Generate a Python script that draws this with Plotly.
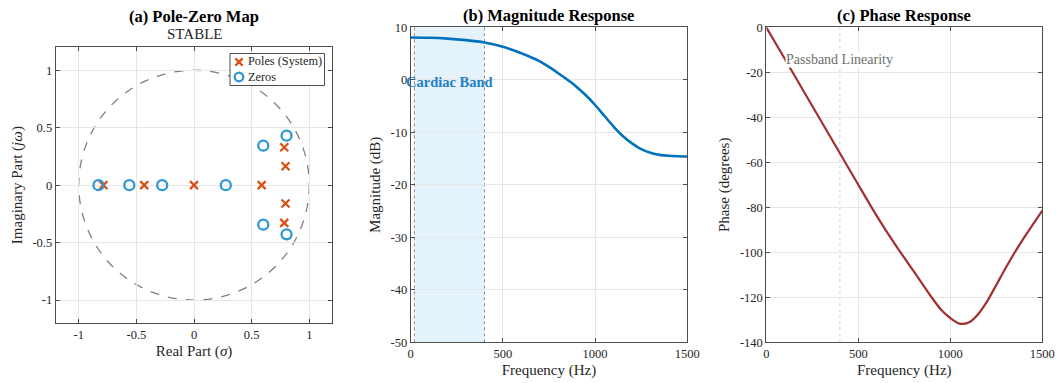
import plotly.graph_objects as go

# ---------------- data ----------------
pole_re = [-0.786, -0.432, 0.0, 0.587, 0.783, 0.794, 0.794, 0.783]
pole_im = [0.0, 0.0, 0.0, 0.0, 0.330, 0.165, -0.160, -0.328]
zero_re = [-0.829, -0.561, -0.276, 0.276, 0.601, 0.803, 0.601, 0.803]
zero_im = [0.0, 0.0, 0.0, 0.0, 0.344, 0.431, -0.344, -0.428]

mag_freq = [0, 100, 200, 300, 400, 500, 600, 700, 750, 800, 850, 900, 950, 1000, 1050,
            1100, 1150, 1200, 1250, 1300, 1350, 1400, 1450, 1500]
mag_db = [8.05, 8.0, 7.85, 7.55, 7.1, 6.3, 5.05, 3.5, 2.45, 1.25, 0.0, -1.35, -2.95,
          -4.8, -6.85, -8.9, -10.7, -12.1, -13.2, -13.9, -14.3, -14.47, -14.55, -14.6]

ph_freq = [0, 100, 200, 300, 400, 500, 600, 700, 800, 900, 950, 1000, 1050,
           1100, 1150, 1200, 1250, 1300, 1350, 1400, 1450, 1500]
ph_deg = [0, -14, -28, -42, -56, -70, -83.8, -96.5, -108.3, -120.2, -125.5, -129.2,
          -131.7, -131.2, -127.6, -121.8, -114.5, -107.1, -100.1, -93.6, -87.5, -81.5]

band_lo, band_hi = 20, 400

pz_ticks = [-1, -0.5, 0, 0.5, 1]
pz_ticktext = ["-1", "-0.5", "0", "0.5", "1"]
freq_ticks = [0, 500, 1000, 1500]
mag_ticks = [10, 0, -10, -20, -30, -40, -50]
ph_ticks = [0, -20, -40, -60, -80, -100, -120, -140]

legend_labels = ["Poles (System)", "Zeros"]

# ---------------- style ----------------
FONT = "Liberation Serif"
TXT = "#262626"
AX = "#4d4d4d"
GRID = "#e6e6e6"
C_POLE = "#D95319"
C_ZERO = "#2F98D3"
C_MAG = "#0072BD"
C_PH = "#A2302F"
W, H = 1061, 383

def px(x):
    return x / W

def py(y):
    return 1 - y / H

fig = go.Figure()

fig.add_trace(go.Scatter(x=pole_re, y=pole_im, mode="markers", name=legend_labels[0],
                         showlegend=False,
                         marker=dict(symbol="x-thin", size=8, color=C_POLE,
                                     line=dict(color=C_POLE, width=2.3)),
                         xaxis="x", yaxis="y"))
fig.add_trace(go.Scatter(x=zero_re, y=zero_im, mode="markers", name=legend_labels[1],
                         showlegend=False,
                         marker=dict(symbol="circle-open", size=10, color=C_ZERO,
                                     line=dict(color=C_ZERO, width=2.3)),
                         xaxis="x", yaxis="y"))
fig.add_trace(go.Scatter(x=mag_freq, y=mag_db, mode="lines", showlegend=False,
                         line=dict(color=C_MAG, width=2.6, shape="spline", smoothing=0.8),
                         xaxis="x2", yaxis="y2"))
fig.add_trace(go.Scatter(x=ph_freq, y=ph_deg, mode="lines", showlegend=False,
                         line=dict(color=C_PH, width=2.2, shape="spline", smoothing=0.8),
                         xaxis="x3", yaxis="y3"))

axcommon = dict(showline=True, linecolor=AX, linewidth=1, mirror="ticks", ticks="inside",
                ticklen=4, tickcolor=AX, gridcolor=GRID, gridwidth=1, zeroline=False,
                automargin=False,
                tickfont=dict(family=FONT, size=12.5, color=TXT),
                title_font=dict(family=FONT, size=15, color=TXT))

dom_a_x = [px(55.7), px(332.3)]
dom_a_y = [py(323), py(47.3)]
dom_b_x = [px(410.7), px(687.3)]
dom_c_x = [px(766.3), px(1042.3)]
dom_bc_y = [py(342.3), py(27.3)]

fig.update_layout(
    width=W, height=H,
    margin=dict(l=0, r=0, t=0, b=0),
    paper_bgcolor="white", plot_bgcolor="white",
    font=dict(family=FONT, color=TXT),
    showlegend=False,
    xaxis=dict(domain=dom_a_x, range=[-1.2, 1.2], tickvals=pz_ticks, ticktext=pz_ticktext,
               title=dict(text="Real Part (<i>σ</i>)", standoff=4), anchor="y", **axcommon),
    yaxis=dict(domain=dom_a_y, range=[-1.2, 1.2], tickvals=pz_ticks, ticktext=pz_ticktext,
               title=dict(text="Imaginary Part (<i>jω</i>)", standoff=6), anchor="x", **axcommon),
    xaxis2=dict(domain=dom_b_x, range=[0, 1500], tickvals=freq_ticks,
                title=dict(text="Frequency (Hz)", standoff=4), anchor="y2", **axcommon),
    yaxis2=dict(domain=dom_bc_y, range=[-50, 10], tickvals=mag_ticks,
                ticktext=[str(v) for v in mag_ticks],
                title=dict(text="Magnitude (dB)", standoff=6), anchor="x2", **axcommon),
    xaxis3=dict(domain=dom_c_x, range=[0, 1500], tickvals=freq_ticks,
                title=dict(text="Frequency (Hz)", standoff=4), anchor="y3", **axcommon),
    yaxis3=dict(domain=dom_bc_y, range=[-140, 0], tickvals=ph_ticks,
                ticktext=[str(v) for v in ph_ticks],
                title=dict(text="Phase (degrees)", standoff=6), anchor="x3", **axcommon),
)

# unit circle
fig.add_shape(type="circle", xref="x", yref="y", x0=-1, y0=-1, x1=1, y1=1,
              line=dict(color="#808080", width=1.3, dash="dash"), layer="below")

# legend box (drawn manually, compact like the reference)
fig.add_shape(type="rect", xref="paper", yref="paper", x0=px(230), x1=px(324.5),
              y0=py(85.5), y1=py(53.5), fillcolor="white",
              line=dict(color=AX, width=1), layer="above")
# pole symbol
cx, cy, r = 239, 62, 3.6
fig.add_shape(type="line", xref="paper", yref="paper", x0=px(cx - r), y0=py(cy - r),
              x1=px(cx + r), y1=py(cy + r), line=dict(color=C_POLE, width=2.3))
fig.add_shape(type="line", xref="paper", yref="paper", x0=px(cx - r), y0=py(cy + r),
              x1=px(cx + r), y1=py(cy - r), line=dict(color=C_POLE, width=2.3))
# zero symbol
cx2, cy2, r2 = 239, 77, 4.3
fig.add_shape(type="circle", xref="paper", yref="paper", x0=px(cx2 - r2), y0=py(cy2 + r2),
              x1=px(cx2 + r2), y1=py(cy2 - r2), line=dict(color=C_ZERO, width=2.3))
for lab, yy in zip(legend_labels, [61.5, 77]):
    fig.add_annotation(x=px(245.5), y=py(yy), xref="paper", yref="paper", text=lab,
                       showarrow=False, xanchor="left", yanchor="middle",
                       font=dict(family=FONT, size=12.3, color=TXT))

# cardiac band
fig.add_shape(type="rect", xref="x2", yref="y2", x0=band_lo, x1=band_hi, y0=-50, y1=10,
              fillcolor="#E3F2FB", line=dict(width=0), layer="below")
for xv in [band_lo, band_hi]:
    fig.add_shape(type="line", xref="x2", yref="y2", x0=xv, x1=xv, y0=-50, y1=10,
                  line=dict(color="#8c8c8c", width=1, dash="dot"), layer="below")
fig.add_annotation(x=(band_lo + band_hi) / 2, y=-0.4, xref="x2", yref="y2",
                   text="<b>Cardiac Band</b>", showarrow=False,
                   font=dict(family=FONT, size=14.5, color="#1F80C4"))

# phase reference
fig.add_shape(type="line", xref="x3", yref="y3", x0=band_hi, x1=band_hi, y0=-140, y1=0,
              line=dict(color="#d0d0d0", width=1, dash="dot"), layer="below")
fig.add_annotation(x=band_hi, y=-14.5, xref="x3", yref="y3", text="Passband Linearity",
                   showarrow=False, bgcolor="white", borderpad=0,
                   font=dict(family=FONT, size=14, color="#6e6e6e"))

# titles
def ptitle(xc, y, text, size=16.5, color="#000000"):
    fig.add_annotation(x=xc, y=y, xref="paper", yref="paper", text=text, showarrow=False,
                       xanchor="center", yanchor="middle",
                       font=dict(family=FONT, size=size, color=color))

ptitle(sum(dom_a_x) / 2, py(16.5), "<b>(a) Pole-Zero Map</b>")
ptitle(sum(dom_a_x) / 2, py(34), "STABLE", size=15, color=TXT)
ptitle(sum(dom_b_x) / 2, py(15.5), "<b>(b) Magnitude Response</b>")
ptitle(sum(dom_c_x) / 2, py(15.5), "<b>(c) Phase Response</b>")

fig.write_html("out.html")
